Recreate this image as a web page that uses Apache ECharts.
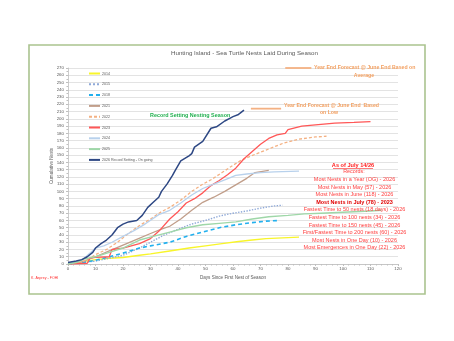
<!DOCTYPE html>
<html>
<head>
<meta charset="utf-8">
<script src="https://cdn.jsdelivr.net/npm/echarts@6.0.0/dist/echarts.min.js"></script>
<style>
html, body { margin: 0; padding: 0; background: #fff; }
#chart { width: 454px; height: 341px; }
</style>
</head>
<body>
<div id="chart"></div>
<script>
// cumulative nests per season, [day since first nest, nests]
var y2014 = [[0,0],[5,3],[10,6],[15,8],[20,9],[26,12],[30,14],[37,18],[44,22],[50,25],[56,28],[62,31],[67,33],[72,35],[78,36],[84,37]];
var y2015 = [[0,0],[5,2],[10,4],[15,8],[20,12],[26,22],[30,30],[35,40],[40,48],[45,55],[50,60],[55,66],[60,70],[65,73],[70,77],[75,80],[78,81]];
var y2018 = [[0,0],[5,2],[10,5],[15,10],[20,15],[26,22],[30,25],[37,30],[43,38],[49,44],[55,50],[61,54],[67,57],[72,59],[77,60]];
var y2021 = [[0,0],[5,3],[10,10],[15,18],[20,26],[25,34],[30,42],[34,48],[37,52],[41,62],[45,74],[49,85],[53,92],[57,100],[61,109],[65,118],[68,126],[73,129]];
var y2022 = [[0,1],[5,3],[8,8],[10,13],[14,20],[18,30],[22,42],[26,53],[30,62],[34,72],[37,78],[41,88],[45,100],[49,110],[52,116],[56,126],[60,136],[63,143],[66,148],[72,157],[78,166],[84,172],[90,175],[94,176]];
var y2023 = [[0,0],[7,1],[8,8],[10,9],[15,10],[16,20],[20,22],[26,28],[30,35],[33,45],[37,62],[40,72],[43,84],[46,90],[49,98],[52,108],[55,115],[58,123],[61,132],[64,145],[67,155],[70,165],[73,173],[76,178],[79,180],[80,185],[85,190],[91,192],[97,194],[104,195],[110,196]];
var y2024 = [[0,0],[5,5],[8,15],[10,22],[13,25],[16,30],[20,38],[24,46],[28,55],[33,68],[37,74],[41,84],[45,95],[49,104],[53,110],[57,116],[61,122],[65,124],[70,126],[75,127],[84,128]];
var y2025 = [[0,0],[3,2],[6,7],[10,10],[15,16],[20,22],[26,33],[31,38],[37,44],[43,50],[49,54],[55,56],[61,58],[67,62],[73,65],[80,67],[86,69],[92,70],[98,71],[104,72],[110,73],[114,74]];
var y2026 = [[0,2],[3,4],[5,6],[7,10],[9,16],[10,22],[12,28],[14,33],[16,40],[18,50],[20,55],[22,58],[25,60],[27,67],[29,78],[31,85],[33,92],[34,100],[36,110],[38,122],[39,129],[41,142],[44,149],[45,152],[46,161],[49,169],[52,187],[54,189],[57,197],[59,201],[60,203],[62,206],[64,212]];

// year end forecast bars
var forecastAvg = [[79,270],[88.5,270]];
var forecastLow = [[66.5,214],[77.5,214]];

var seriesNames = ['2014','2015','2018','2021','2022','2023','2024','2025','2026 Record Setting - On going'];

var records = [
	'Most Nests in a Year (OG) - 2026',
	'Most Nests in May (57) - 2026',
	'Most Nests in June (118) - 2026',
	'Most Nests in July (78) - 2023',
	'Fastest Time to 50 nests (18 days) - 2026',
	'Fastest Time to 100 nests (34) - 2026',
	'Fastest Time to 150 nests (45) - 2026',
	'First/Fastest Time to 200 nests (60) - 2026',
	'Most Nests in One Day (10) - 2026',
	'Most Emergences in One Day (22) - 2026'
];

var FONT = 'Liberation Sans';

function line(name, data, color, width, type) {
	return {
		name: name,
		type: 'line',
		data: data,
		symbol: 'none',
		silent: true,
		lineStyle: { color: color, width: width, type: type || 'solid' },
		itemStyle: { color: color }
	};
}

function label(x, y, text, color, size, weight, align) {
	return {
		type: 'text', x: x, y: Math.round(y), silent: true, z: 10,
		style: {
			text: text, fill: color, fontSize: size, fontWeight: weight || 'normal',
			fontFamily: FONT, align: align || 'left', verticalAlign: 'middle',
			stroke: null, lineWidth: 0
		}
	};
}

var series = [
	line(seriesNames[0], y2014, '#f8f52a', 1.4),
	line(seriesNames[1], y2015, '#8fa9d8', 1.4, 'dotted'),
	line(seriesNames[2], y2018, '#22b0ee', 1.6, [4, 3]),
	line(seriesNames[3], y2021, '#c19e8a', 1.3),
	line(seriesNames[4], y2022, '#f4b183', 1.3, [3, 2]),
	line(seriesNames[5], y2023, '#ff5757', 1.3),
	line(seriesNames[6], y2024, '#b8d1ec', 1.3),
	line(seriesNames[7], y2025, '#9fd7a8', 1.4),
	line(seriesNames[8], y2026, '#2e4884', 1.5),
	line('fa', forecastAvg, '#f4b183', 1.8),
	line('fl', forecastLow, '#f4b183', 1.8)
];

var orange = '#f3a061';
var graphic = [
	{ type: 'rect', silent: true, shape: { x: 29, y: 45, width: 396, height: 249 }, style: { fill: 'none', stroke: '#aac38f', lineWidth: 1.6 }, z: -1 },
	label(150, 116, 'Record Setting Nesting Season', '#22b04f', 5.4, 'bold'),
	label(314, 68, 'Year End Forecast @ June End Based on', orange, 5.2, 'bold'),
	label(364, 76, 'Average', orange, 5.2, 'bold', 'center'),
	label(284, 106, 'Year End Forecast @ June End  Based', orange, 5.2, 'bold'),
	label(329, 113, 'on Low', orange, 5.2, 'bold', 'center'),
	label(353, 165, 'As of July 14/26', '#ff2020', 5.6, 'bold', 'center'),
	{ type: 'line', silent: true, shape: { x1: 333, y1: 168.5, x2: 373, y2: 168.5 }, style: { stroke: '#ff2020', lineWidth: 0.6 } },
	label(354, 172, 'Records:', '#ff4040', 5.4, 'normal', 'center'),
	label(31, 278, 'K. Asprey - FOHI', '#ff3030', 3.6)
];
for (var i = 0; i < records.length; i++) {
	var bold = records[i].indexOf('July') >= 0;
	graphic.push(label(354.5, 179 + i * 7.6, records[i], bold ? '#e00000' : '#ff4040', 5.5, bold ? 'bold' : 'normal', 'center'));
}

var option = {
	backgroundColor: '#ffffff',
	animation: false,
	textStyle: { fontFamily: FONT },
	title: {
		text: 'Hunting Island - Sea Turtle Nests Laid During Season',
		left: 171, top: 50,
		padding: 0,
		textStyle: { fontSize: 6.2, fontWeight: 'normal', color: '#595959', fontFamily: FONT }
	},
	legend: {
		data: seriesNames,
		orient: 'vertical',
		left: 88, top: 71.5,
		padding: 0,
		itemWidth: 11, itemHeight: 5, itemGap: 6.8,
		itemStyle: { opacity: 0 },
		textStyle: { fontSize: 3.6, color: '#595959', padding: [0, 0, 0, -3] },
		selectedMode: false
	},
	grid: { left: 68, right: 56, top: 68, bottom: 77 },
	xAxis: {
		type: 'value', min: 0, max: 120, interval: 10,
		name: 'Days Since First Nest of Season', nameLocation: 'middle', nameGap: 11,
		nameMoveOverlap: false,
		nameTextStyle: { fontSize: 4.6, color: '#595959' },
		axisLine: { lineStyle: { color: '#bfbfbf', width: 0.8 } },
		axisTick: { show: true, length: 2, lineStyle: { color: '#bfbfbf' } },
		minorTick: { show: true, splitNumber: 5, length: 1.5, lineStyle: { color: '#bfbfbf' } },
		axisLabel: { fontSize: 4.4, color: '#595959', margin: 3 },
		splitLine: { show: false }
	},
	yAxis: {
		type: 'value', min: 0, max: 270, interval: 10,
		name: 'Cumulative Nests', nameLocation: 'middle', nameGap: 14, nameRotate: 90,
		nameMoveOverlap: false,
		nameTextStyle: { fontSize: 4.6, color: '#595959' },
		axisLine: { show: true, lineStyle: { color: '#bfbfbf', width: 0.8 } },
		axisTick: { show: true, length: 2, lineStyle: { color: '#bfbfbf' } },
		minorTick: { show: true, splitNumber: 2, length: 1.5, lineStyle: { color: '#bfbfbf' } },
		axisLabel: { fontSize: 4.4, color: '#595959', margin: 4 },
		splitLine: { show: true, lineStyle: { color: '#e3e3e3', width: 1 } }
	},
	graphic: graphic,
	series: series
};

var mychart = echarts.init(document.getElementById('chart'), null, { renderer: 'canvas' });
mychart.setOption(option);
</script>
</body>
</html>
